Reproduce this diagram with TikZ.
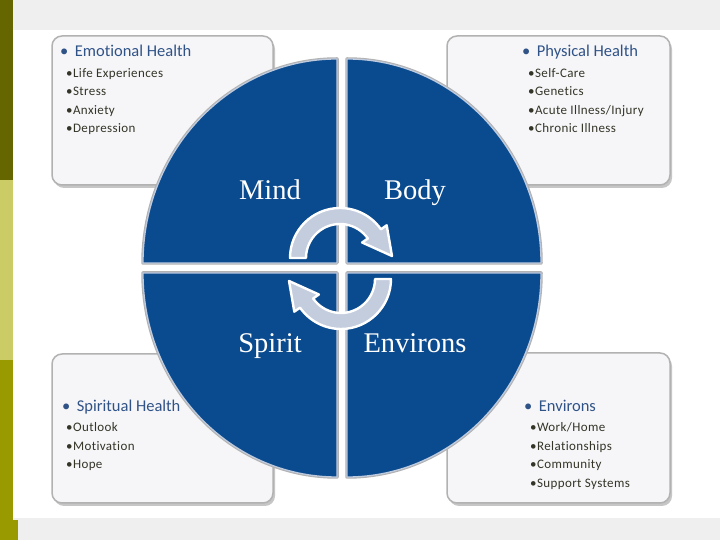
\documentclass[tikz,border=0pt]{standalone}
\usepackage{fontspec}
\setmainfont{Carlito}[Ligatures=NoCommon]
\newfontfamily\labfont{Liberation Serif}
\newfontfamily\itemfont[LetterSpace=3,Ligatures=NoCommon]{Carlito}
\definecolor{bggray}{HTML}{EFEFEF}
\definecolor{olivedark}{RGB}{102,102,0}
\definecolor{olivelight}{RGB}{204,204,102}
\definecolor{olivemid}{RGB}{153,153,0}
\definecolor{qblue}{RGB}{10,74,142}
\definecolor{rimcol}{RGB}{190,202,222}
\definecolor{arrowfill}{RGB}{196,205,222}
\definecolor{headblue}{RGB}{47,82,135}
\definecolor{itemcol}{RGB}{52,52,40}
\definecolor{boxfill}{RGB}{246,246,248}
\tikzset{
  boxshape/.style={rounded corners=10pt, fill=boxfill, draw=gray!60, line width=1.5pt},
  boxshadow/.style={rounded corners=10pt, fill=gray!45},
  quad/.style={fill=qblue, draw=rimcol, line width=1.3pt, line join=round},
  quadshadow/.style={draw=gray!60, line width=3.5pt, line join=round},
  cyclearrow/.style={fill=arrowfill, draw=white, line width=2.4pt, line join=round},
  heading/.style={anchor=base west, inner sep=0pt, text=headblue, font=\fontsize{16.5}{18}\selectfont},
  itemtxt/.style={anchor=base west, inner sep=0pt, text=itemcol, font=\itemfont\fontsize{13}{14}\selectfont},
  qlabel/.style={anchor=base, inner sep=0pt, text=white, font=\labfont\fontsize{28.5}{30}\selectfont}
}
\begin{document}
\begin{tikzpicture}[x=1pt,y=1pt]
\useasboundingbox (0,0) rectangle (720,540);
% background
\fill[bggray] (0,0) rectangle (720,540);
\fill[white] (13,22) rectangle (720,510);
\fill[olivedark] (0,360) rectangle (13,540);
\fill[olivelight] (0,180) rectangle (13,360);
\fill[olivemid] (0,0) rectangle (13,180);
\fill[olivemid] (0,0) rectangle (18,20);
% boxes
\foreach \xa/\ya/\xb/\yb in {52/504/273/355, 447/504/670/355, 52/186/273/37, 447/187/670/37}{
  \fill[boxshadow] (\xa+2,\ya-3) rectangle (\xb+2,\yb-3);
  \draw[boxshape] (\xa,\ya) rectangle (\xb,\yb);
}
% quadrants
\def\qTR{(347,277) -- ++(194,0) arc[start angle=0, end angle=90, x radius=194, y radius=204] -- cycle}
\def\qTL{(337,277) -- ++(0,204) arc[start angle=90, end angle=180, x radius=194, y radius=204] -- cycle}
\def\qBL{(337,267) -- ++(-194,0) arc[start angle=180, end angle=270, x radius=194, y radius=204] -- cycle}
\def\qBR{(347,267) -- ++(0,-204) arc[start angle=270, end angle=360, x radius=194, y radius=204] -- cycle}
\draw[quadshadow] \qTR; \draw[quadshadow] \qTL; \draw[quadshadow] \qBL; \draw[quadshadow] \qBR;
\draw[quad] \qTR; \draw[quad] \qTL; \draw[quad] \qBL; \draw[quad] \qBR;
% cycle arrows
\begin{scope}[shift={(340,282)}]
  \draw[cyclearrow] (180:34) -- (180:50) arc[start angle=180, end angle=35, radius=50]
    -- (35:57) -- (52,2) -- (35:27) -- (35:34) arc[start angle=35, end angle=180, radius=34] -- cycle;
\end{scope}
\begin{scope}[shift={(341,261)}, rotate=180]
  \draw[cyclearrow] (180:34) -- (180:50) arc[start angle=180, end angle=35, radius=50]
    -- (35:57) -- (52,2) -- (35:27) -- (35:34) arc[start angle=35, end angle=180, radius=34] -- cycle;
\end{scope}
% quadrant labels
\node[qlabel] (mind) at (270,340) {Mind};
\node[qlabel] (body) at (415,340) {Body};
\node[qlabel] (spirit) at (270,187) {Spirit};
\node[qlabel] (environs) at (415,187) {Environs};
% box texts
\node[heading] (h1) at (60,483) {•\, Emotional Health};
\node[itemtxt] (e1) at (66,462.5) {•Life Experiences};
\node[itemtxt] (e2) at (66,444) {•Stress};
\node[itemtxt] (e3) at (66,425.5) {•Anxiety};
\node[itemtxt] (e4) at (66,407) {•Depression};
\node[heading] (h2) at (522,483) {•\, Physical Health};
\node[itemtxt] (p1) at (528,462.5) {•Self-Care};
\node[itemtxt] (p2) at (528,444) {•Genetics};
\node[itemtxt] (p3) at (528,425.5) {•Acute Illness/Injury};
\node[itemtxt] (p4) at (528,407) {•Chronic Illness};
\node[heading] (h3) at (62,128) {•\, Spiritual Health};
\node[itemtxt] (s1) at (66,108) {•Outlook};
\node[itemtxt] (s2) at (66,89.5) {•Motivation};
\node[itemtxt] (s3) at (66,71) {•Hope};
\node[heading] (h4) at (524,128) {•\, Environs};
\node[itemtxt] (v1) at (530,108) {•Work/Home};
\node[itemtxt] (v2) at (530,89.5) {•Relationships};
\node[itemtxt] (v3) at (530,71) {•Community};
\node[itemtxt] (v4) at (530,52.5) {•Support Systems};
\end{tikzpicture}
\end{document}
